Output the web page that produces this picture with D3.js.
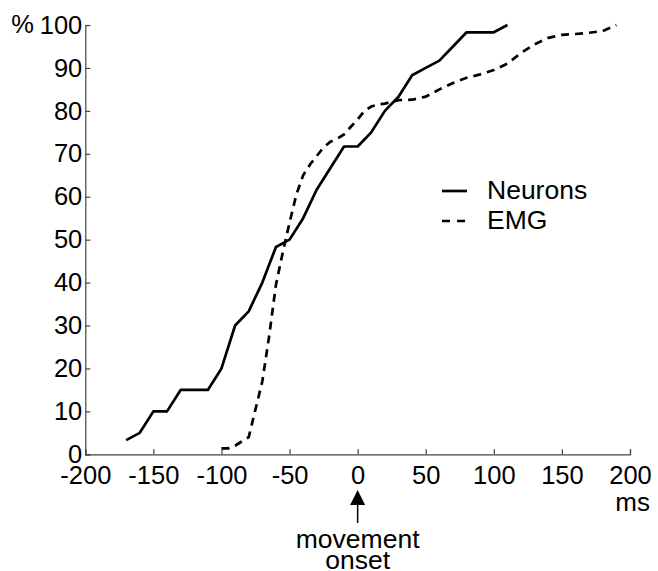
<!DOCTYPE html>
<html>
<head>
<meta charset="utf-8">
<script src="https://cdn.jsdelivr.net/npm/d3@7"></script>
<style>
  body { margin: 0; background: #fff; }
  svg text { font-family: "Liberation Sans", Arial, Helvetica, sans-serif; fill: #000; }
</style>
</head>
<body>
<svg id="chart" width="658" height="571"></svg>
<script>
// time (ms) relative to movement onset, cumulative % of cells / muscles
const neuronTimes = [-170, -160, -150, -140, -130, -120, -110, -100, -90, -80, -70, -60, -50, -40, -30, -20, -10, 0, 10, 20, 30, 40, 50, 60, 70, 80, 90, 100, 110];
const neuronPct = [3.3, 5, 10, 10, 15, 15, 15, 20, 30, 33.3, 40, 48.3, 50, 55, 61.7, 66.7, 71.7, 71.7, 75, 80, 83.3, 88.3, 90, 91.7, 95, 98.3, 98.3, 98.3, 100];

const emgTimes = [-100, -95, -90, -85, -80, -75, -70, -65, -60, -55, -50, -45, -40, -35, -30, -25, -20, -15, -10, -5, 0, 5, 10, 15, 20, 30, 40, 50, 60, 70, 80, 90, 100, 110, 120, 130, 140, 150, 160, 170, 180, 190];
const emgPct = [1.4, 1.4, 2, 3, 4, 10.5, 17, 27.5, 39.5, 47, 54, 60.5, 65, 67.5, 69.5, 71.5, 72.8, 73.5, 74.5, 76.3, 78, 80, 81, 81.5, 81.7, 82.5, 82.6, 83.3, 85, 86.5, 87.7, 88.5, 89.5, 91, 93.5, 95.5, 97, 97.7, 97.9, 98.2, 98.6, 100];

const xTicks = [-200, -150, -100, -50, 0, 50, 100, 150, 200];
const yTicks = [0, 10, 20, 30, 40, 50, 60, 70, 80, 90, 100];

const seriesNames = ["Neurons", "EMG"];

const svg = d3.select('#chart');
const x = d3.scaleLinear().domain([-200, 200]).range([85.3, 630]);
const y = d3.scaleLinear().domain([0, 100]).range([454.3, 25]);

// axes (ticks point inward), plain hyphen for negatives
const xAxis = d3.axisBottom(x).tickValues(xTicks).tickSize(-5).tickPadding(12).tickFormat(d => String(d));
const yAxis = d3.axisLeft(y).tickValues(yTicks).tickSize(-5).tickPadding(3).tickFormat(d => String(d));

const xg = svg.append('g').attr('transform', `translate(0,${y(0)})`).call(xAxis);
const yg = svg.append('g').attr('transform', `translate(${x(-200)},0)`).call(yAxis);

[xg, yg].forEach(g => {
  g.attr('font-family', null).attr('font-size', null);
  g.selectAll('path, line').attr('stroke', '#444').attr('stroke-width', 1.2);
  g.selectAll('text').style('font-size', '25.5px').attr('fill', '#000');
});

svg.append('text')
  .attr('x', 34).attr('y', y(100)).attr('dy', '0.32em')
  .attr('text-anchor', 'end')
  .style('font-size', '25.5px')
  .text('%');

svg.append('text')
  .attr('x', 650).attr('y', 511)
  .attr('text-anchor', 'end')
  .style('font-size', '26px')
  .text('ms');

// movement onset arrow
const ax = x(0);
svg.append('line')
  .attr('x1', ax).attr('x2', ax).attr('y1', 523).attr('y2', 503)
  .attr('stroke', '#000').attr('stroke-width', 1.5);
svg.append('path')
  .attr('d', `M${ax},490L${ax - 7.5},505L${ax + 7.5},505Z`)
  .attr('fill', '#000');

svg.append('text')
  .attr('x', ax).attr('y', 548)
  .attr('text-anchor', 'middle')
  .style('font-size', '26.5px')
  .text('movement');
svg.append('text')
  .attr('x', ax).attr('y', 569)
  .attr('text-anchor', 'middle')
  .style('font-size', '26.5px')
  .text('onset');

// curves
const line = d3.line().x(d => x(d[0])).y(d => y(d[1]));

const neurons = neuronTimes.map((t, i) => [t, neuronPct[i]]);
const emg = emgTimes.map((t, i) => [t, emgPct[i]]);

svg.append('path')
  .datum(emg)
  .attr('d', line)
  .attr('fill', 'none')
  .attr('stroke', '#000')
  .attr('stroke-width', 2.7)
  .attr('stroke-dasharray', '8,6');

svg.append('path')
  .datum(neurons)
  .attr('d', line)
  .attr('fill', 'none')
  .attr('stroke', '#000')
  .attr('stroke-width', 2.7)
  .attr('stroke-linejoin', 'round');

// legend
const legend = svg.append('g');
legend.selectAll('line')
  .data(seriesNames)
  .enter()
  .append('line')
    .attr('x1', 442).attr('x2', 467)
    .attr('y1', (d, i) => 191 + i * 30)
    .attr('y2', (d, i) => 191 + i * 30)
    .attr('stroke', '#000')
    .attr('stroke-width', 2.7)
    .attr('stroke-dasharray', (d, i) => i === 0 ? null : '8,7');

legend.selectAll('text')
  .data(seriesNames)
  .enter()
  .append('text')
    .attr('x', 487)
    .attr('y', (d, i) => 199 + i * 30)
    .style('font-size', '26.5px')
    .text(d => d);
</script>
</body>
</html>
